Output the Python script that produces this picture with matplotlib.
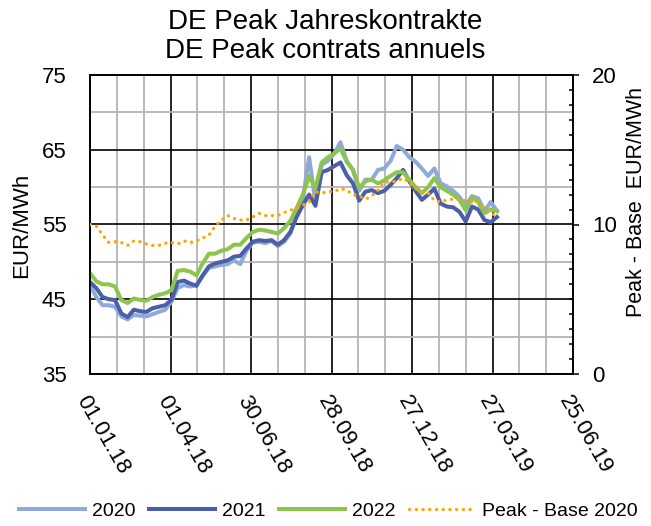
import matplotlib
matplotlib.use("Agg")
import matplotlib.pyplot as plt
import matplotlib.dates as mdates
from matplotlib.ticker import FixedLocator, MultipleLocator, NullFormatter
import pandas as pd

plt.rcParams['font.family'] = ['Liberation Sans', 'DejaVu Sans']

# ---- data (weekly readings) ----
start_date = "2018-01-01"
n_weeks = 66
y2020 = [46.9, 45.3, 44.2, 44.2, 44.0, 42.7, 42.3, 42.9, 42.8, 42.7, 43.0, 43.3, 43.6, 44.7,
         46.5, 46.9, 46.7, 46.9, 48.1, 49.2, 49.4, 49.6, 49.7, 50.2, 49.7, 51.5, 52.6, 52.7,
         52.5, 52.8, 52.1, 52.7, 53.8, 56.2, 58.5, 64.0, 58.0, 63.0, 63.5, 64.5, 66.0, 63.5,
         62.3, 59.5, 61.0, 61.0, 62.3, 62.5, 63.5, 65.5, 65.0, 64.0, 63.4, 62.5, 61.5, 62.5,
         60.5, 60.1, 59.5, 58.7, 57.5, 58.8, 58.5, 56.8, 58.0, 56.8]
y2021 = [47.3, 46.5, 45.3, 45.0, 44.9, 43.1, 42.6, 43.6, 43.4, 43.3, 43.8, 44.0, 44.2, 44.9,
         47.3, 47.5, 47.1, 46.8, 48.2, 49.4, 49.8, 50.0, 50.2, 50.7, 50.8, 51.8, 52.7, 52.9,
         52.8, 52.9, 52.3, 52.9, 54.0, 56.0, 57.6, 59.0, 57.5, 62.0, 62.3, 62.8, 63.3, 61.6,
         60.5, 58.2, 59.4, 59.6, 59.2, 59.5, 60.3, 61.2, 62.3, 60.8, 59.5, 58.3, 59.0, 59.8,
         57.8, 57.4, 57.3, 56.7, 55.4, 57.4, 57.0, 55.6, 55.3, 56.0]
y2022 = [48.5, 47.4, 47.0, 47.0, 46.7, 44.9, 44.5, 45.1, 44.9, 44.8, 45.3, 45.6, 45.8, 46.2,
         48.8, 48.9, 48.7, 48.2, 49.8, 51.1, 51.1, 51.5, 51.7, 52.3, 52.3, 53.2, 54.0, 54.3,
         54.2, 54.0, 53.8, 54.5, 55.5, 57.2, 59.0, 61.5, 59.8, 63.3, 64.0, 64.5, 65.2, 63.4,
         62.3, 59.9, 60.8, 61.0, 60.5, 60.9, 61.5, 62.0, 62.0, 61.0, 60.0, 59.2, 60.0, 61.2,
         60.0, 59.5, 59.0, 58.3, 56.9, 58.6, 58.0, 56.5, 57.0, 56.8]
peak_base = [10.0, 9.9, 9.3, 8.8, 8.85, 8.8, 8.6, 8.9, 8.85, 8.7, 8.6, 8.6, 8.75, 8.8,
             8.7, 8.9, 8.8, 8.9, 9.1, 9.3, 9.9, 10.3, 10.6, 10.4, 10.3, 10.3, 10.5, 10.75,
             10.6, 10.6, 10.6, 10.8, 10.95, 11.1, 11.3, 11.5, 12.2, 12.1, 12.2, 12.2, 12.4, 12.3,
             12.0, 11.9, 11.7, 11.9, 12.3, 12.85, 12.85, 12.9, 13.1, 12.85, 12.4, 12.2, 12.1, 11.6,
             11.5, 11.65, 11.7, 11.65, 11.6, 11.5, 11.5, 11.1, 10.9, 10.4]
series_names = ["2020", "2021", "2022", "Peak - Base 2020"]
tick_labels = ["01.01.18", "01.04.18", "30.06.18", "28.09.18", "27.12.18", "27.03.19", "25.06.19"]
left_major = [35, 45, 55, 65, 75]
left_minor = [40, 50, 60, 70]

dates = pd.date_range(start_date, periods=n_weeks, freq="7D")
major_dates = pd.date_range(start_date, periods=7, freq="90D")
minor_dates = pd.date_range(start_date, periods=19, freq="30D")

fig = plt.figure(figsize=(6.51, 5.26), dpi=100)
ax = fig.add_axes([90/651, 1-374/526, (573-90)/651, (374-75)/526])
ax2 = ax.twinx()

c2020 = "#8EA9DB"
c2021 = "#4A5FA8"
c2022 = "#8DC44E"
corange = "#FFA500"

l1, = ax.plot(dates, y2020, color=c2020, lw=2.9, solid_joinstyle="round", zorder=3)
l2, = ax.plot(dates, y2021, color=c2021, lw=2.9, solid_joinstyle="round", zorder=4)
l3, = ax.plot(dates, y2022, color=c2022, lw=2.9, solid_joinstyle="round", zorder=5)
l4, = ax2.plot(dates, peak_base, color=corange, lw=2.3, linestyle=(0, (0.1, 2.0)),
               dash_capstyle="round", zorder=6)

ax.set_xlim(major_dates[0], major_dates[-1])
ax.set_ylim(35, 75)
ax2.set_ylim(0, 20)

ax.xaxis.set_major_locator(FixedLocator(mdates.date2num(major_dates)))
ax.xaxis.set_minor_locator(FixedLocator(mdates.date2num(minor_dates)))
ax.xaxis.set_major_formatter(plt.FixedFormatter(tick_labels))
ax.xaxis.set_minor_formatter(NullFormatter())
ax.yaxis.set_major_locator(FixedLocator(left_major))
ax.yaxis.set_minor_locator(FixedLocator(left_minor))
ax.yaxis.set_minor_formatter(NullFormatter())

ax.grid(which="minor", color="#B4B4B4", lw=1.3, zorder=0)
ax.grid(which="major", color="black", lw=1.2, zorder=1)
ax.set_axisbelow(True)

ax.tick_params(axis="both", which="both", length=0)
ax.tick_params(axis="y", labelsize=16, pad=17)
ax.tick_params(axis="x", labelsize=16, pad=13)
for lab in ax.get_xticklabels():
    lab.set_rotation(-60)
    lab.set_ha("left")
    lab.set_va("top")
    lab.set_rotation_mode("anchor")

ax2.yaxis.set_major_locator(MultipleLocator(10))
ax2.yaxis.set_minor_locator(MultipleLocator(1))
ax2.tick_params(axis="y", which="major", direction="out", length=4.5, width=1.1,
                labelsize=16, pad=9)
ax2.tick_params(axis="y", which="minor", direction="in", length=3, width=1.1)

for a in (ax, ax2):
    for s in a.spines.values():
        s.set_color("black")
        s.set_linewidth(1.2)

fig.text(22/651, 1-225/526, "EUR/MWh", rotation=90, ha="center", va="center", fontsize=16)
fig.text(637/651, 1-202/526, "Peak - Base  EUR/MWh", rotation=90, ha="center", va="center",
         fontsize=15.5)

fig.text(325/651, 1-29/526, "DE Peak Jahreskontrakte", ha="center", va="baseline", fontsize=20)
fig.text(325/651, 1-58/526, "DE Peak contrats annuels", ha="center", va="baseline", fontsize=20)

fig.legend([l1, l2, l3, l4], series_names, loc="center", bbox_to_anchor=(328/651, 1-511/526),
           ncol=4, frameon=False, fontsize=14, handlelength=3.4, handletextpad=0.35,
           columnspacing=0.7)

fig.savefig("out.png", dpi=100)
